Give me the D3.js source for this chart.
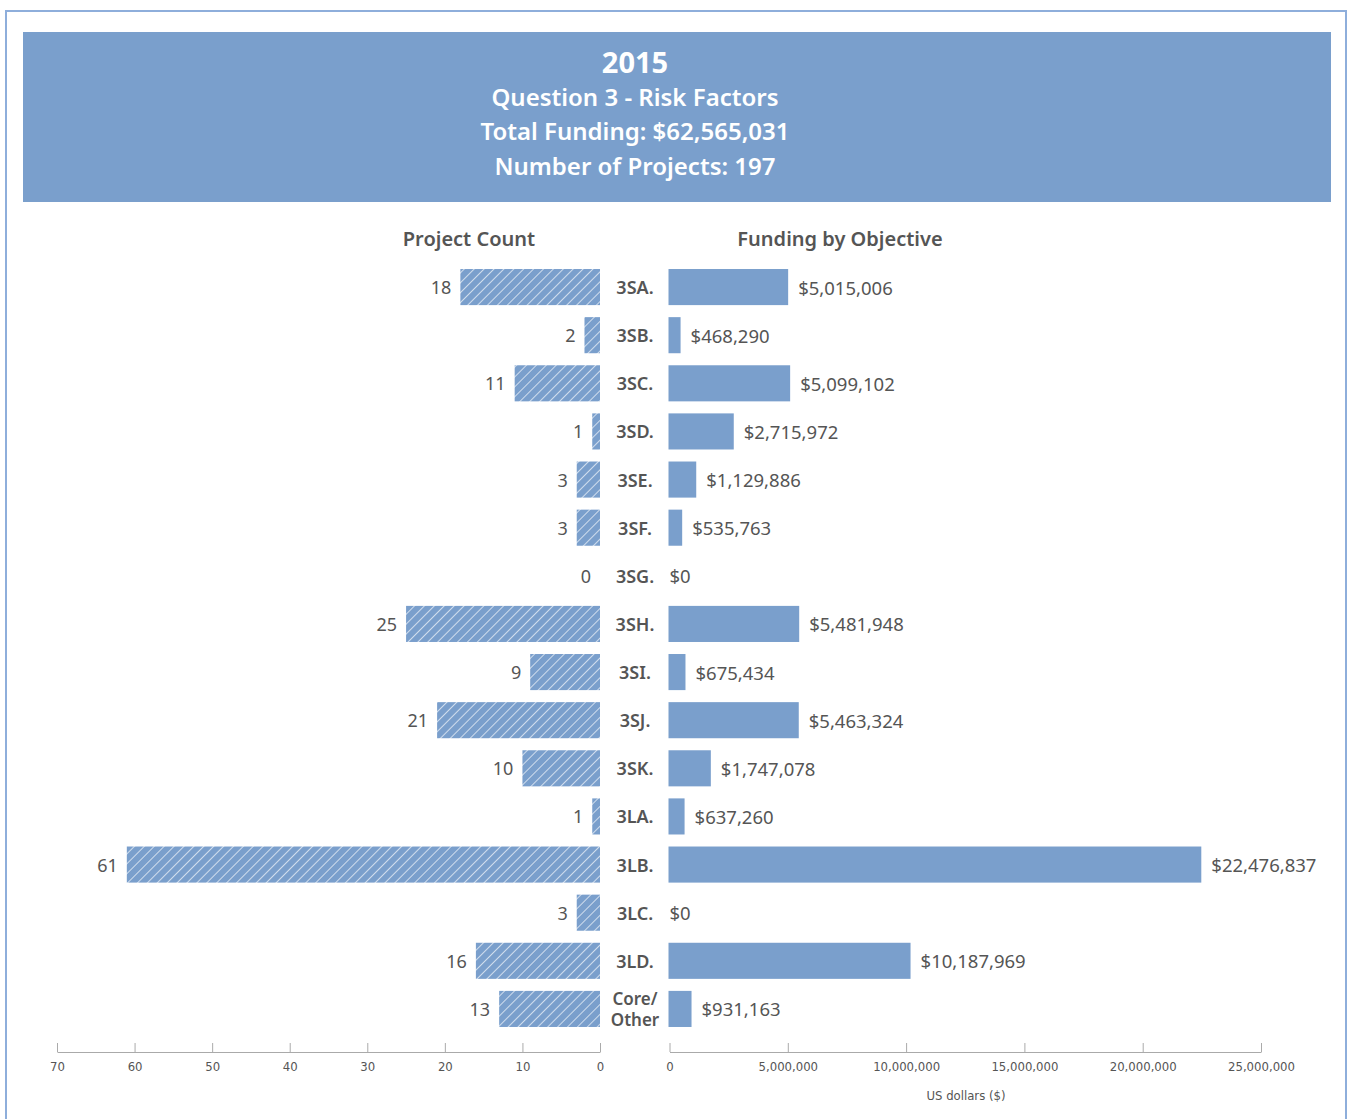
<!DOCTYPE html>
<html><head><meta charset="utf-8">
<script src="https://cdn.jsdelivr.net/npm/d3@7"></script>
<style>
body{margin:0;background:#fff;}
svg{display:block;}
</style></head><body>
<svg id="chart" width="1348" height="1119"></svg>
<script>
const categories = ["3SA.","3SB.","3SC.","3SD.","3SE.","3SF.","3SG.","3SH.","3SI.","3SJ.","3SK.","3LA.","3LB.","3LC.","3LD.","Core/\nOther"];
const projectCounts = [18,2,11,1,3,3,0,25,9,21,10,1,61,3,16,13];
const funding = [5015006,468290,5099102,2715972,1129886,535763,0,5481948,675434,5463324,1747078,637260,22476837,0,10187969,931163];
const countTicks = [70,60,50,40,30,20,10,0];
const fundingTicks = [0,5000000,10000000,15000000,20000000,25000000];
const titleLines = ["2015","Question 3 - Risk Factors","Total Funding: $62,565,031","Number of Projects: 197"];

const blue = "#7a9fcc";
const textCol = "#555";
const font = "'Noto Sans', 'Open Sans', sans-serif";
const axisFont = "'Liberation Sans Narrow','DejaVu Sans Condensed', sans-serif";

const svg = d3.select("#chart");

// outer frame
svg.append("rect").attr("x",6).attr("y",11).attr("width",1340).attr("height",1120)
  .attr("fill","none").attr("stroke","#8eaedb").attr("stroke-width",2);

// header
svg.append("rect").attr("x",23).attr("y",32).attr("width",1308).attr("height",170).attr("fill",blue);
const tY = [61,96,130,165];
const tS = [29,24,24,24];
titleLines.forEach((t,i)=>{
  svg.append("text").attr("x",635).attr("y",tY[i]).attr("text-anchor","middle")
    .attr("dominant-baseline","central").attr("fill","#fff")
    .attr("font-family",font).attr("font-weight",i===0?700:600).attr("font-size",tS[i])
    .text(t);
});

// pattern
const defs = svg.append("defs");
const pat = defs.append("pattern").attr("id","hatch").attr("patternUnits","userSpaceOnUse")
  .attr("width",7).attr("height",7).attr("patternTransform","rotate(45)");
pat.append("rect").attr("width",7).attr("height",7).attr("fill",blue);
pat.append("line").attr("x1",0).attr("y1",0).attr("x2",0).attr("y2",7)
  .attr("stroke","#fff").attr("stroke-width",1.3);

// scales
const y = d3.scaleBand().domain(d3.range(categories.length)).range([263,1033]).paddingInner(0.25).paddingOuter(0.125);
const xL = d3.scaleLinear().domain([0,70]).range([600,57]);
const xR = d3.scaleLinear().domain([0,25000000]).range([669.5,1261]);

// column headers
svg.append("text").attr("x",469).attr("y",238).attr("text-anchor","middle").attr("dominant-baseline","central")
  .attr("font-family",font).attr("font-weight",600).attr("font-size",20).attr("fill",textCol).text("Project Count");
svg.append("text").attr("x",840).attr("y",238).attr("text-anchor","middle").attr("dominant-baseline","central")
  .attr("font-family",font).attr("font-weight",600).attr("font-size",20).attr("fill",textCol).text("Funding by Objective");

const rows = svg.append("g").selectAll("g").data(categories).join("g");

// left bars
rows.append("rect").attr("x",(d,i)=>xL(projectCounts[i])).attr("y",(d,i)=>y(i))
  .attr("width",(d,i)=>xL(0)-xL(projectCounts[i])).attr("height",y.bandwidth())
  .attr("fill","url(#hatch)");
rows.append("text").attr("x",(d,i)=>xL(projectCounts[i])-9).attr("y",(d,i)=>y(i)+y.bandwidth()/2)
  .attr("text-anchor","end").attr("dominant-baseline","central")
  .attr("font-family",font).attr("font-size",18).attr("fill",textCol)
  .text((d,i)=>projectCounts[i]);

// right bars
rows.append("rect").attr("x",xR(0)-1).attr("y",(d,i)=>y(i))
  .attr("width",(d,i)=>funding[i]>0?xR(funding[i])-xR(0)+1:0).attr("height",y.bandwidth())
  .attr("fill",blue);
rows.append("text").attr("x",(d,i)=>funding[i]>0?xR(funding[i])+10:xR(0))
  .attr("y",(d,i)=>y(i)+y.bandwidth()/2)
  .attr("text-anchor","start").attr("dominant-baseline","central")
  .attr("font-family",font).attr("font-size",18.5).attr("fill",textCol)
  .text((d,i)=>"$"+d3.format(",")(funding[i]));

// category labels
rows.each(function(d,i){
  const lines = d.split("\n");
  const cy = y(i)+y.bandwidth()/2;
  const g = d3.select(this);
  const fs = lines.length>1 ? 17 : 18;
  lines.forEach((l,j)=>{
    g.append("text").attr("x",635).attr("y",cy+(j-(lines.length-1)/2)*21)
      .attr("text-anchor","middle").attr("dominant-baseline","central")
      .attr("font-family",font).attr("font-weight",600).attr("font-size",fs).attr("fill",textCol)
      .text(l);
  });
});

// axes
function styleAxis(g){
  g.select(".domain").attr("stroke","#aaa");
  g.selectAll(".tick line").attr("stroke","#aaa");
  g.selectAll(".tick text").attr("font-family",axisFont).attr("font-size",13).attr("fill",textCol)
    .attr("y",10).attr("dy","0.71em");
}
const axL = svg.append("g").attr("transform","translate(0,1052)")
  .call(d3.axisBottom(xL).tickValues(countTicks).tickSizeInner(-9).tickSizeOuter(0).tickFormat(d3.format("d")));
styleAxis(axL);
const axR = svg.append("g").attr("transform","translate(0,1052)")
  .call(d3.axisBottom(xR).tickValues(fundingTicks).tickSizeInner(-9).tickSizeOuter(0).tickFormat(d3.format(",")));
styleAxis(axR);
svg.append("text").attr("x",966).attr("y",1095).attr("text-anchor","middle").attr("dominant-baseline","central")
  .attr("font-family",axisFont).attr("font-size",13).attr("fill",textCol).text("US dollars ($)");
</script>
</body></html>
